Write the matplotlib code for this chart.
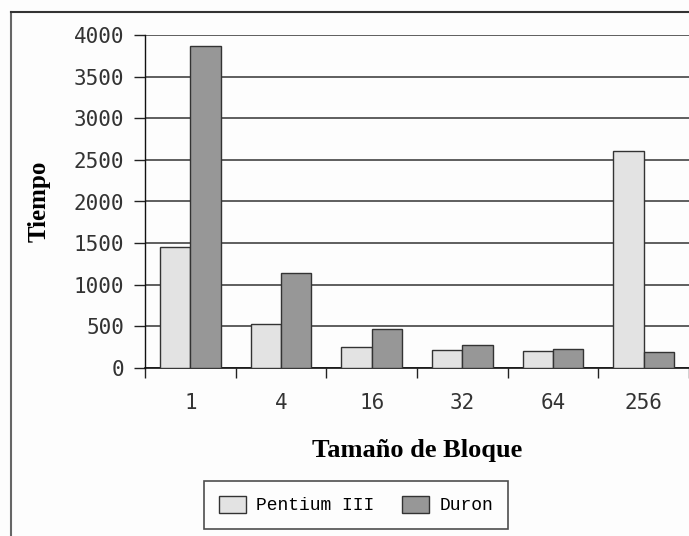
import numpy as np
import matplotlib
matplotlib.use('Agg')
import matplotlib.pyplot as plt
from matplotlib.lines import Line2D

# Data
block_sizes = ['1', '4', '16', '32', '64', '256']
pentium_iii = [1450, 530, 250, 220, 205, 2605]
duron = [3870, 1145, 465, 272, 226, 190]
series_names = ['Pentium III', 'Duron']
y_ticks = [0, 500, 1000, 1500, 2000, 2500, 3000, 3500, 4000]

W, H = 689, 536
fig = plt.figure(figsize=(W / 100, H / 100), dpi=100, facecolor='#fdfdfd')

# plot area in pixel coordinates of the original
left, right, top, bottom = 145, 689, 35, 368
ax = fig.add_axes([left / W, 1 - bottom / H, (right - left) / W, (bottom - top) / H])
ax.set_facecolor('#fdfdfd')

x = np.arange(len(block_sizes))
bw = 1 / 3
b1 = ax.bar(x - bw / 2, pentium_iii, bw, color='#e3e3e3', edgecolor='#333333',
            linewidth=1, label=series_names[0], zorder=3)
b2 = ax.bar(x + bw / 2, duron, bw, color='#979797', edgecolor='#333333',
            linewidth=1, label=series_names[1], zorder=3)

ax.set_xlim(-0.5, len(block_sizes) - 0.5)
ax.set_ylim(0, 4000)

# gridlines
ax.set_yticks(y_ticks)
ax.yaxis.grid(True, color='#333333', linewidth=1.1, zorder=1)
ax.set_axisbelow(True)

mono = 'DejaVu Sans Mono'
ax.set_yticklabels([str(v) for v in y_ticks], family=mono, fontsize=15, color='#333333')
ax.tick_params(axis='y', length=8, width=1, pad=7, color='#222222')

# category boundaries as ticks, labels on minor ticks at centers
ax.set_xticks(np.arange(-0.5, len(block_sizes), 1.0))
ax.set_xticklabels([])
ax.set_xticks(x, minor=True)
ax.set_xticklabels(block_sizes, minor=True, family=mono, fontsize=15, color='#333333')
ax.tick_params(axis='x', which='major', length=7, width=1, color='#222222')
ax.tick_params(axis='x', which='minor', length=0, pad=18)

for s in ['top', 'right']:
    ax.spines[s].set_visible(False)
ax.spines['left'].set_color('#111111')
ax.spines['bottom'].set_color('#111111')
ax.spines['left'].set_linewidth(1)
ax.spines['bottom'].set_linewidth(1.2)

serif = 'Liberation Serif'
ax.set_ylabel('Tiempo', family=serif, fontweight='bold', fontsize=18, va='center')
ax.yaxis.set_label_coords((39 - left) / (right - left), 0.5)
ax.set_xlabel('Tamaño de Bloque', family=serif, fontweight='bold', fontsize=19, va='center')
ax.xaxis.set_label_coords(((417 - left) / (right - left)), (bottom - 450) / (bottom - top))

leg = fig.legend(handles=[b1, b2], loc='center', bbox_to_anchor=(356 / W, 1 - 505 / H),
                 ncol=2, frameon=True, fancybox=False, shadow=False,
                 prop={'family': 'Liberation Mono', 'size': 13},
                 handlelength=1.5, handleheight=1.1, handletextpad=0.6,
                 columnspacing=1.5, borderpad=0.8, borderaxespad=0)
leg.get_frame().set_edgecolor('#222222')
leg.get_frame().set_linewidth(1.2)
leg.get_frame().set_facecolor('#fdfdfd')

# outer chart border (right and bottom edges fall outside the image)
fig.add_artist(Line2D([10.5 / W, 10.5 / W], [0, 1 - 11.5 / H], transform=fig.transFigure,
                      color='#666666', linewidth=1.5))
fig.add_artist(Line2D([10.5 / W, 1], [1 - 11.5 / H, 1 - 11.5 / H], transform=fig.transFigure,
                      color='#333333', linewidth=1.5))

fig.savefig('out.png', dpi=100, facecolor=fig.get_facecolor())
